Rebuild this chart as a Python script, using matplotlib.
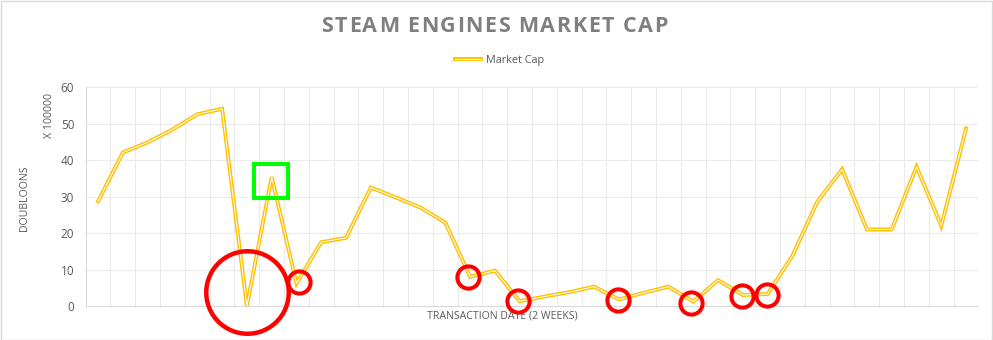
import numpy as np
import matplotlib
matplotlib.use("Agg")
import matplotlib.pyplot as plt
import matplotlib.patheffects as pe
from matplotlib.patches import Rectangle
from matplotlib.font_manager import FontProperties

# ---------------- data ----------------
title = "STEAM ENGINES MARKET CAP"
series_name = "Market Cap"
x_label = "TRANSACTION DATE (2 WEEKS)"
y_label = "DOUBLOONS"
y_unit = "X 100000"
y_ticks = [0, 10, 20, 30, 40, 50, 60]
market_cap = [28.7, 42.1, 44.9, 48.4, 52.6, 54.1, 0.0, 35.4, 6.2, 17.5,
              18.7, 32.5, 29.8, 27.0, 22.9, 8.0, 9.7, 1.3, 2.6, 3.8,
              5.3, 1.8, 3.6, 5.3, 1.2, 7.1, 3.0, 3.3, 13.8, 28.6,
              37.5, 21.0, 21.0, 38.2, 22.0, 48.7]
periods = np.arange(len(market_cap))

# annotation shapes (in data coordinates: period index, value)
big_circle_x = [6.02]
big_circle_y = [3.84]
small_circle_x = [8.1, 14.93, 16.94, 20.95, 23.91, 25.95, 26.98]
small_circle_y = [6.67, 8.04, 1.45, 1.65, 0.91, 2.74, 3.02]
square_x = [6.99]
square_y = [34.4]

# ---------------- style ----------------
W, H = 993, 340
GOLD = "#FFC000"
TXT = "#595959"
GRID = "#EBEBEB"
AXIS = "#D9D9D9"
FONT = "Open Sans"

fig = plt.figure(figsize=(W / 100, H / 100), dpi=100)
fig.patch.set_facecolor("white")

left, right, top, bottom = 85.7, 978.5, 87.3, 306.0
ax = fig.add_axes([left / W, (H - bottom) / H, (right - left) / W, (bottom - top) / H])

line, = ax.plot(periods, market_cap, color="white", lw=0.75, label=series_name,
                solid_joinstyle="miter", zorder=3,
                path_effects=[pe.Stroke(linewidth=2.8, foreground=GOLD, joinstyle="miter"),
                              pe.Normal()])

ax.set_xlim(-0.5, len(market_cap) - 0.5)
ax.set_ylim(0, 60)
ax.set_yticks(y_ticks)
ax.set_yticklabels([str(t) for t in y_ticks], fontfamily=FONT, fontsize=8.5, color=TXT)
ax.set_xticks([])
ax.set_xticks(np.arange(-0.5, len(market_cap), 1), minor=True)
ax.tick_params(axis="both", which="both", length=0)
ax.tick_params(axis="y", pad=8.2)
ax.grid(True, axis="y", which="major", color=GRID, lw=0.75)
ax.grid(True, axis="x", which="minor", color=GRID, lw=0.75)
ax.set_axisbelow(True)
for s in ["top", "right"]:
    ax.spines[s].set_visible(False)
for s in ["left", "bottom"]:
    ax.spines[s].set_color(AXIS)
    ax.spines[s].set_linewidth(0.75)

# annotations
ax.plot(big_circle_x, big_circle_y, "o", ms=59.4, mfc="none", mec="#FF0000",
        mew=3.2, clip_on=False, zorder=5)
ax.plot(small_circle_x, small_circle_y, "o", ms=16.0, mfc="none", mec="#FF0000",
        mew=2.9, clip_on=False, zorder=5)
ax.plot(square_x, square_y, "s", ms=24.5, mfc="none", mec="#00FF00",
        mew=2.9, clip_on=False, zorder=5)

# axis titles
fig.text(502 / W, 1 - 315.7 / H, x_label, ha="center", va="center",
         fontfamily=FONT, fontsize=7.6, color=TXT)
fig.text(24.5 / W, 1 - 198 / H, y_label, ha="center", va="center", rotation=90,
         fontfamily=FONT, fontsize=7.6, color=TXT)
fig.text(49.5 / W, 1 - 115 / H, y_unit, ha="center", va="center", rotation=90,
         fontfamily=FONT, fontsize=7.6, color=TXT)

# legend
fig.legend(handles=[line], loc="center", bbox_to_anchor=(499.5 / W, 1 - 60.7 / H),
           frameon=False, handlelength=2.4, handletextpad=0.45,
           prop=FontProperties(family=FONT, size=7.8), labelcolor=TXT)

# letter-spaced title
renderer = fig.canvas.get_renderer()
tprop = FontProperties(family=FONT, weight="bold", size=15.5)
def tw(s):
    w, h, d = renderer.get_text_width_height_descent(s, tprop, ismath=False)
    return w
target_w = 346.0
natural = tw(title)
sp = (target_w - natural) / (len(title) - 1)
x0 = 494.5 - target_w / 2
ty = 1 - 26.2 / H
for k, ch in enumerate(title):
    if ch == " ":
        continue
    xr = x0 + tw(title[:k + 1]) + k * sp
    fig.text(xr / W, ty, ch, ha="right", va="center", fontproperties=tprop,
             color="#7F7F7F")

# chart border
fig.patches.append(Rectangle((0.5 / W, 0.5 / H), 991.0 / W, 338.5 / H,
                             transform=fig.transFigure, fill=False,
                             edgecolor=AXIS, lw=1.0))

fig.savefig("out.png", dpi=100, facecolor="white")
